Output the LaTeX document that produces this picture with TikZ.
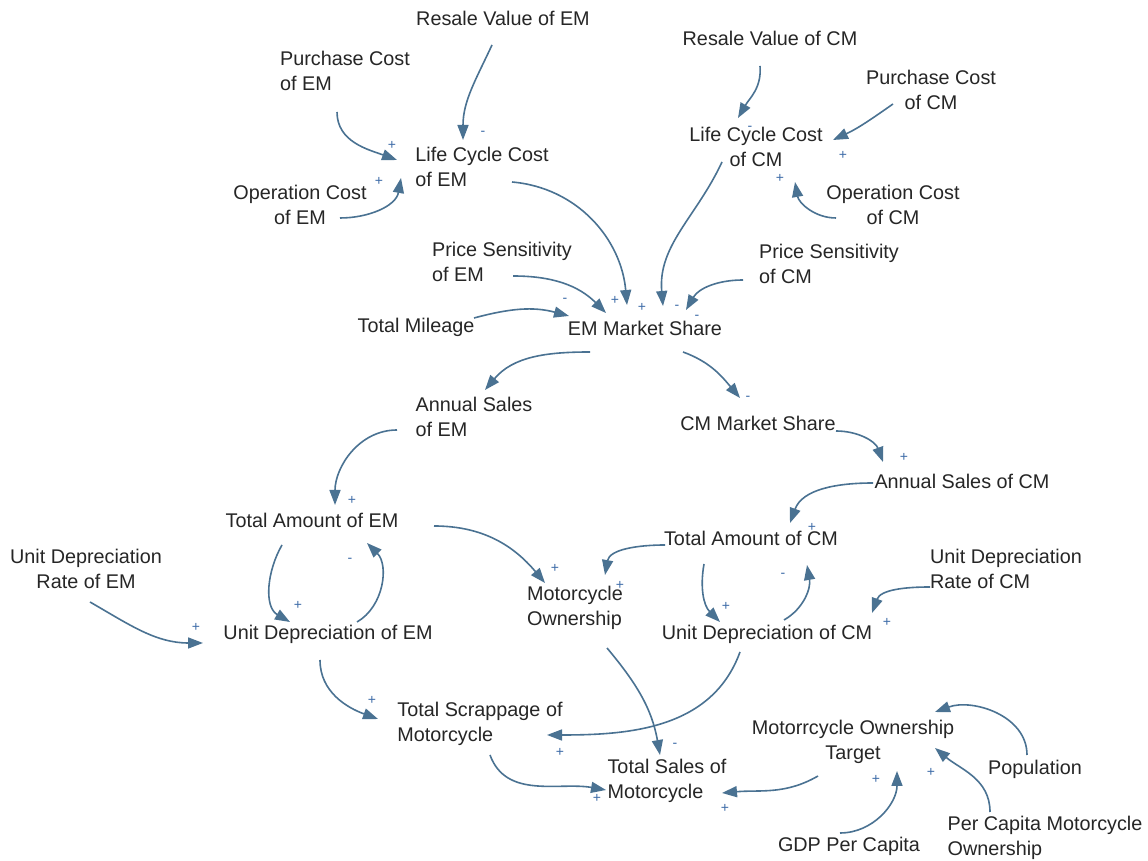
\documentclass[tikz,border=0pt]{standalone}
\usepackage{fontspec}
\setmainfont{Liberation Sans}
\usetikzlibrary{arrows.meta,calc}
\definecolor{linkc}{RGB}{74,114,146}
\definecolor{signc}{RGB}{62,108,168}
\tikzset{
  var/.style={font=\fontsize{19.8}{25}\selectfont, inner sep=0pt, text=black!85},
  varl/.style={var, align=left},
  varc/.style={var, align=center},
  link/.style={draw=linkc, line width=1.6pt, -{Triangle[length=15pt,width=11pt]}},
  sgn/.style={font=\fontsize{14}{14}\selectfont, text=signc, inner sep=0pt}
}
\begin{document}
\begin{tikzpicture}[x=1pt,y=1pt]
\useasboundingbox (0,0) rectangle (1148,861);
\fill[white] (0,0) rectangle (1148,861);

% ---- variables ----
\node[var]  (rvem)  at (503,843) {Resale Value of EM};
\node[varl] (pcem)  at (345,790) {Purchase Cost\\of EM};
\node[varl] (lccem) at (482,694) {Life Cycle Cost\\of EM};
\node[varc] (ocem)  at (300,656) {Operation Cost\\of EM};
\node[var]  (rvcm)  at (770,823) {Resale Value of CM};
\node[varc] (pccm)  at (931,771) {Purchase Cost\\of CM};
\node[varc] (lcccm) at (756,714) {Life Cycle Cost\\of CM};
\node[varc] (occm)  at (893,656) {Operation Cost\\of CM};
\node[varl] (psem)  at (502,599) {Price Sensitivity\\of EM};
\node[varl] (pscm)  at (829,597) {Price Sensitivity\\of CM};
\node[var]  (tm)    at (416,534) {Total Mileage};
\node[var]  (emms)  at (645,533) {EM Market Share};
\node[varl] (asem)  at (474,444) {Annual Sales\\of EM};
\node[var]  (cmms)  at (758,438) {CM Market Share};
\node[var]  (ascm)  at (962,380) {Annual Sales of CM};
\node[var]  (taem)  at (312,341) {Total Amount of EM};
\node[var]  (tacm)  at (751,323) {Total Amount of CM};
\node[varc] (udrem) at (86,292)  {Unit Depreciation\\Rate of EM};
\node[var]  (udem)  at (328,227) {Unit Depreciation of EM};
\node[varl] (mo)    at (575,253) {Motorcycle\\Ownership};
\node[var]  (udcm)  at (767,227) {Unit Depreciation of CM};
\node[varl] (udrcm) at (1006,292) {Unit Depreciation\\Rate of CM};
\node[varl] (tsc)   at (480,137) {Total Scrappage of\\Motorcycle};
\node[varc] (mot)   at (853,119) {Motorrcycle Ownership\\Target};
\node[varl] (tsm)   at (667,80)  {Total Sales of\\Motorcycle};
\node[var]  (pop)   at (1035,92) {Population};
\node[var]  (gdp)   at (849,15)  {GDP Per Capita};
\node[varl] (pcmo)  at (1045,23) {Per Capita Motorcycle\\Ownership};

% ---- causal links ----
\draw[link] ($(pcem)+(-8,-41)$)   to[out=-90,in=160]  ($(lccem)+(-85,7)$);
\draw[link] ($(rvem)+(-11,-27)$)  to[out=-115,in=90]  ($(lccem)+(-19,27)$);
\draw[link] ($(ocem)+(40,-13)$)   to[out=0,in=-100]   ($(lccem)+(-81,-11)$);
\draw[link] ($(lccem)+(30,-15)$)  to[out=-5,in=95]    ($(emms)+(-18,23)$);
\draw[link] ($(rvcm)+(-10,-28)$)  to[out=-85,in=60]   ($(lcccm)+(-18,29)$);
\draw[link] ($(pccm)+(-38,-14)$)  to[out=-145,in=25]  ($(lcccm)+(77,7)$);
\draw[link] ($(occm)+(-57,-13)$)  to[out=180,in=-80]  ($(lcccm)+(39,-35)$);
\draw[link] ($(lcccm)+(-34,-15)$) to[out=-115,in=95]  ($(emms)+(18,22)$);
\draw[link] ($(psem)+(11,-14)$)   to[out=0,in=135]    ($(emms)+(-39,15)$);
\draw[link] ($(pscm)+(-86,-16)$)  to[out=180,in=60]   ($(emms)+(41,18)$);
\draw[link] ($(tm)+(58,9)$)       to[out=15,in=165]   ($(emms)+(-76,12)$);
\draw[link] ($(emms)+(-55,-24)$)  to[out=180,in=50]   ($(asem)+(11,27)$);
\draw[link] ($(emms)+(38,-24)$)   to[out=-20,in=130]  ($(cmms)+(-18,25)$);
\draw[link] ($(asem)+(-77,-13)$)  to[out=180,in=90]   ($(taem)+(23,15)$);
\draw[link] ($(cmms)+(78,-8)$)    to[out=0,in=110]    ($(ascm)+(-79,19)$);
\draw[link] ($(ascm)+(-89,-2)$)   to[out=180,in=70]   ($(tacm)+(39,15)$);
\draw[link] ($(taem)+(-30,-25)$)  to[out=-120,in=150] ($(udem)+(-38,12)$);
\draw[link] ($(udem)+(29,12)$)    to[out=30,in=-45]   ($(taem)+(55,-23)$);
\draw[link] ($(udrem)+(4,-33)$)   to[out=-30,in=180]  ($(udem)+(-125,-9)$);
\draw[link] ($(taem)+(122,-6)$)   to[out=0,in=130]    ($(mo)+(-30,25)$);
\draw[link] ($(tacm)+(-86,-7)$)   to[out=180,in=80]   ($(mo)+(30,33)$);
\draw[link] ($(tacm)+(-47,-26)$)  to[out=-100,in=135] ($(udcm)+(-47,12)$);
\draw[link] ($(udcm)+(17,14)$)    to[out=30,in=-80]   ($(tacm)+(56,-27)$);
\draw[link] ($(udrcm)+(-76,-18)$) to[out=180,in=70]   ($(udcm)+(105,21)$);
\draw[link] ($(udem)+(-8,-26)$)   to[out=-90,in=160]  ($(tsc)+(-102,5)$);
\draw[link] ($(udcm)+(-27,-18)$)  to[out=-110,in=0]   ($(tsc)+(67,-11)$);
\draw[link] ($(mo)+(32,-40)$)     to[out=-50,in=100]  ($(tsm)+(-7,26)$);
\draw[link] ($(tsc)+(10,-31)$)    to[out=-70,in=170]  ($(tsm)+(-61,-9)$);
\draw[link] ($(mot)+(-35,-34)$)   to[out=-150,in=5]   ($(tsm)+(55,-12)$);
\draw[link] ($(pop)+(-8,14)$)     to[out=90,in=20]    ($(mot)+(82,30)$);
\draw[link] ($(pcmo)+(-55,26)$)   to[out=90,in=-40]   ($(mot)+(82,-6)$);
\draw[link] ($(gdp)+(-9,13)$)     to[out=0,in=-90]    ($(mot)+(44,-29)$);

% ---- polarity signs ----
\node[sgn] (p1)  at (392,716) {+};
\node[sgn] (p2)  at (483,728) {-};
\node[sgn] (p3)  at (379,680) {+};
\node[sgn] (p5)  at (750,733) {-};
\node[sgn] (p6)  at (843,706) {+};
\node[sgn] (p7)  at (780,683) {+};
\node[sgn] (p8a) at (565,561) {-};
\node[sgn] (p8b) at (615,561) {+};
\node[sgn] (p8c) at (642,554) {+};
\node[sgn] (p8d) at (677,554) {-};
\node[sgn] (p8e) at (697,544) {-};
\node[sgn] (p13) at (748,463) {-};
\node[sgn] (p14) at (352,361) {+};
\node[sgn] (p15) at (904,404) {+};
\node[sgn] (p16) at (812,334) {+};
\node[sgn] (p17) at (298,256) {+};
\node[sgn] (p18) at (350,301) {-};
\node[sgn] (p19) at (196,234) {+};
\node[sgn] (p20) at (555,293) {+};
\node[sgn] (p21) at (620,276) {+};
\node[sgn] (p22) at (726,255) {+};
\node[sgn] (p23) at (783,286) {-};
\node[sgn] (p24) at (887,239) {+};
\node[sgn] (p25) at (372,161) {+};
\node[sgn] (p26) at (560,109) {+};
\node[sgn] (p27) at (675,116) {-};
\node[sgn] (p28) at (597,63)  {+};
\node[sgn] (p29) at (725,53)  {+};
\node[sgn] (p31) at (931,89)  {+};
\node[sgn] (p32) at (876,82)  {+};
\end{tikzpicture}
\end{document}
